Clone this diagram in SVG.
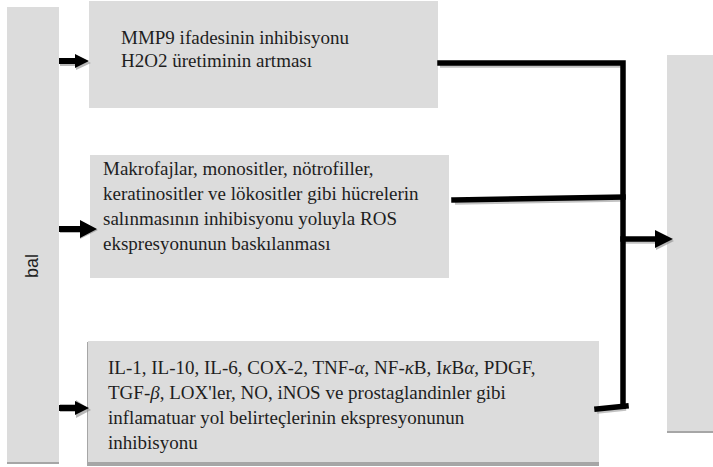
<svg xmlns="http://www.w3.org/2000/svg" width="713" height="467" viewBox="0 0 713 467">
<defs>
<style>
.box{fill:#dcdcdc}
.sh{fill:#a6a6a6}
.t{font-family:"Liberation Serif","Times New Roman",serif;font-size:19px;fill:#1e1e1e}
.s{font-family:"Liberation Sans",Arial,sans-serif;font-size:18px;fill:#1e1e1e}
.ln{stroke:#000;stroke-width:5.5;fill:none;stroke-linecap:square}
.lsh{stroke:#9a9a9a;stroke-width:5.5;fill:none;opacity:0.6}
.ah{fill:#000}
.ahs{fill:#888;opacity:0.6}
</style>
</defs>
<rect width="713" height="467" fill="#fff"/>
<g id="bal">
<rect class="sh" x="7" y="9" width="52" height="455"/>
<rect class="box" x="7" y="7" width="52" height="455"/>
<text class="s" transform="translate(38,266) rotate(-90)" text-anchor="middle">bal</text>
</g>
<g id="box1">
<rect class="box" x="89" y="1" width="349" height="107"/>
<text class="t" x="121" y="44">MMP9 ifadesinin inhibisyonu</text>
<text class="t" x="121" y="67">H2O2 üretiminin artması</text>
</g>
<g id="box2">
<rect class="box" x="90" y="155" width="359" height="123"/>
<text class="t" x="103" y="175">Makrofajlar, monositler, nötrofiller,</text>
<text class="t" x="103" y="200">keratinositler ve lökositler gibi hücrelerin</text>
<text class="t" x="103" y="225">salınmasının inhibisyonu yoluyla ROS</text>
<text class="t" x="103" y="250">ekspresyonunun baskılanması</text>
</g>
<g id="box3">
<rect class="sh" x="87" y="342" width="512" height="124"/>
<rect class="box" x="88" y="341" width="511" height="121"/>
<text class="t" x="108" y="374">IL-1, IL-10, IL-6, COX-2, TNF-<tspan font-style="italic">α</tspan>, NF-<tspan font-style="italic">κ</tspan>B, I<tspan font-style="italic">κ</tspan>B<tspan font-style="italic">α</tspan>, PDGF,</text>
<text class="t" x="108" y="399">TGF-<tspan font-style="italic">β</tspan>, LOX'ler, NO, iNOS ve prostaglandinler gibi</text>
<text class="t" x="108" y="424">inflamatuar yol belirteçlerinin ekspresyonunun</text>
<text class="t" x="108" y="449">inhibisyonu</text>
</g>
<g id="result">
<rect class="sh" x="667" y="57" width="46" height="376"/>
<rect class="box" x="667" y="55" width="46" height="376"/>
</g>
<g id="connectors">
<path class="lsh" d="M440 65 H624 M455 202 L622 199 M597 411 L626 408 M625 241 H658"/>
<polygon class="ahs" points="60,60 76,60 76,56 91,63 76,70 76,66 60,66"/>
<polygon class="ahs" points="60,227 80,227 80,221 98,230 80,239 80,233 60,233"/>
<polygon class="ahs" points="60,404 76,404 76,400 91,410 76,418 76,412 60,412"/>
<polygon class="ahs" points="656,232 674,241 656,250"/>
<polygon class="ah" points="59,58 75,58 75,54 89,61 75,68 75,64 59,64"/>
<polygon class="ah" points="59,226 80,226 80,220 97,229 80,238 80,232 59,232"/>
<polygon class="ah" points="59,405 75,405 75,401 89,408 75,415 75,411 59,411"/>
<path class="ln" d="M440 63 H623 V406"/>
<path class="ln" d="M454 200 L623 197"/>
<path class="ln" d="M597 409 L626 406"/>
<path class="ln" d="M623 239 H657"/>
<polygon class="ah" points="655,230 673,239 655,248"/>
</g>
</svg>
